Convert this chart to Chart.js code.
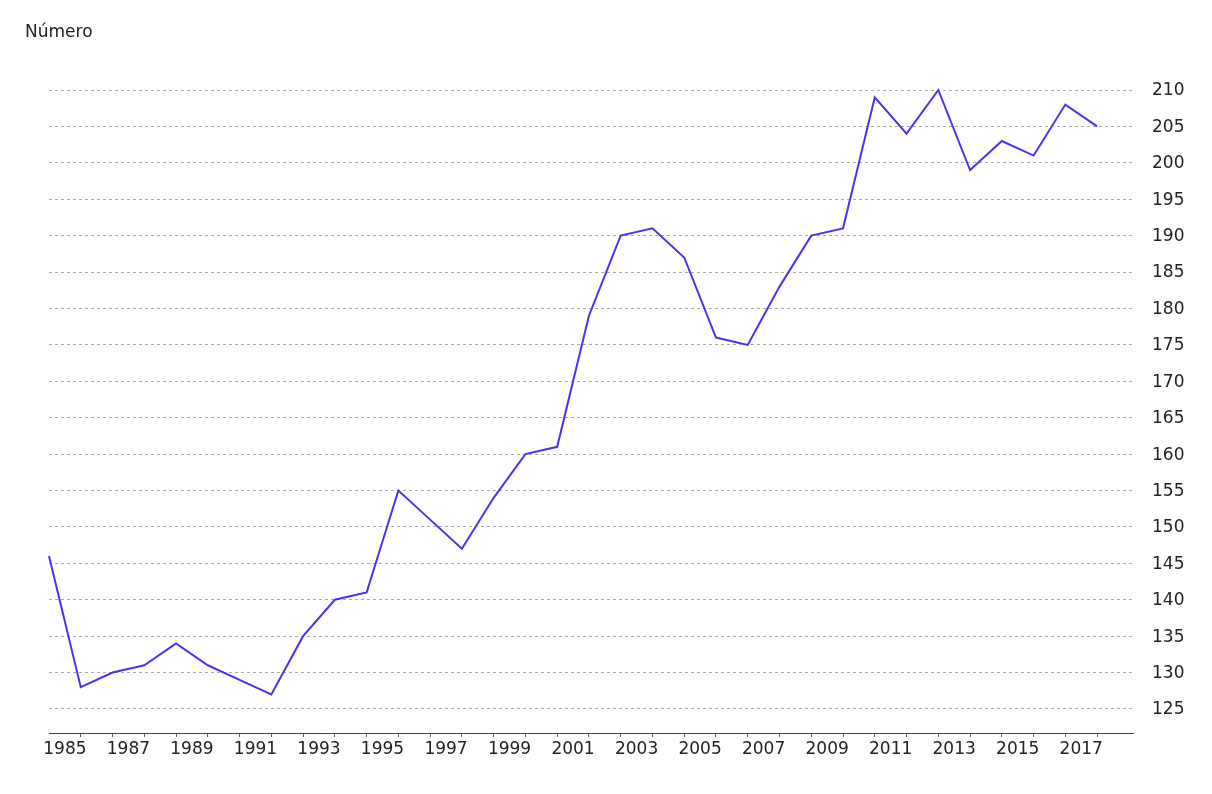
<!DOCTYPE html>
<html>
<head>
<meta charset="utf-8">
<script src="https://cdn.jsdelivr.net/npm/chart.js@4"></script>
<style>
  html, body { margin: 0; padding: 0; background: #ffffff; }
  #wrap { width: 1212px; height: 794px; }
</style>
</head>
<body>
<div id="wrap"><canvas id="c" width="1212" height="794"></canvas></div>
<script>
// Point categories (one per plotted value)
const categories = [1985,1986,1987,1988,1989,1990,1991,1992,1993,1994,1995,1996,1997,1998,1999,2000,2001,2002,2003,2004,2005,2006,2007,2008,2009,2010,2011,2012,2013,2014,2015,2016,2017,2018];
// Series values ("Número")
const values = [146,128,130,131,134,131,129,127,135,140,141,155,151,147,154,160,161,179,190,191,187,176,175,183,190,191,209,204,210,199,203,201,208,205];
// X tick labels shown under the axis
const tickLabels = [1985,1987,1989,1991,1993,1995,1997,1999,2001,2003,2005,2007,2009,2011,2013,2015,2017];
// Y tick values
const yTicks = [125,130,135,140,145,150,155,160,165,170,175,180,185,190,195,200,205,210];
const yAxisTitle = 'Número';

const FONT = '"DejaVu Sans", Verdana, sans-serif';

const titlePlugin = {
  id: 'cornerTitle',
  afterDraw(chart) {
    const ctx = chart.ctx;
    ctx.save();
    ctx.font = '17px ' + FONT;
    ctx.fillStyle = '#222222';
    ctx.textBaseline = 'alphabetic';
    ctx.textAlign = 'left';
    ctx.fillText(yAxisTitle, 25, 37);
    ctx.restore();
  }
};

const bgPlugin = {
  id: 'bg',
  beforeDraw(chart) {
    const ctx = chart.ctx;
    ctx.save();
    ctx.fillStyle = '#ffffff';
    ctx.fillRect(0, 0, chart.width, chart.height);
    ctx.restore();
  }
};

new Chart(document.getElementById('c'), {
  type: 'line',
  data: {
    datasets: [{
      label: yAxisTitle,
      data: values.map((v, i) => ({ x: i, y: v })),
      borderColor: 'rgb(72, 52, 238)',
      borderWidth: 2,
      pointRadius: 0,
      tension: 0,
      fill: false,
      clip: false
    }]
  },
  options: {
    responsive: false,
    animation: false,
    layout: { padding: { left: 49, top: 90, right: 0, bottom: 0 } },
    plugins: {
      legend: { display: false },
      title: { display: false },
      tooltip: { enabled: false }
    },
    scales: {
      x: {
        type: 'linear',
        position: 'bottom',
        min: 0,
        max: 34.13,
        afterBuildTicks(scale) {
          const t = categories.map((c, i) => ({ value: i }));
          tickLabels.forEach(y => t.push({ value: categories.indexOf(y) + 0.5 }));
          t.sort((a, b) => a.value - b.value);
          scale.ticks = t;
        },
        afterFit(scale) { scale.height = 61; },
        ticks: {
          autoSkip: false,
          maxRotation: 0,
          minRotation: 0,
          padding: 2,
          color: '#222222',
          font: { family: FONT, size: 17 },
          callback(value) {
            if (Number.isInteger(value)) return '';
            return String(categories[Math.round(value - 0.5)]);
          }
        },
        grid: {
          drawOnChartArea: false,
          drawTicks: true,
          tickLength: 4,
          tickColor(ctx) {
            return ctx.tick && Number.isInteger(ctx.tick.value) && ctx.tick.value > 0 ? '#666666' : 'rgba(0,0,0,0)';
          }
        },
        border: { display: true, color: '#444444', width: 1 }
      },
      y: {
        type: 'linear',
        position: 'right',
        min: 121.7,
        max: 210,
        afterBuildTicks(scale) {
          scale.ticks = yTicks.map(v => ({ value: v }));
        },
        afterFit(scale) { scale.width = 79; },
        ticks: {
          includeBounds: false,
          padding: 19,
          labelOffset: 1,
          color: '#222222',
          font: { family: FONT, size: 17 },
          callback(value) { return String(value); }
        },
        grid: {
          color: '#ababab',
          lineWidth: 1,
          drawTicks: false
        },
        border: { display: false, dash: [3, 3] }
      }
    }
  },
  plugins: [bgPlugin, titlePlugin]
});
</script>
</body>
</html>
